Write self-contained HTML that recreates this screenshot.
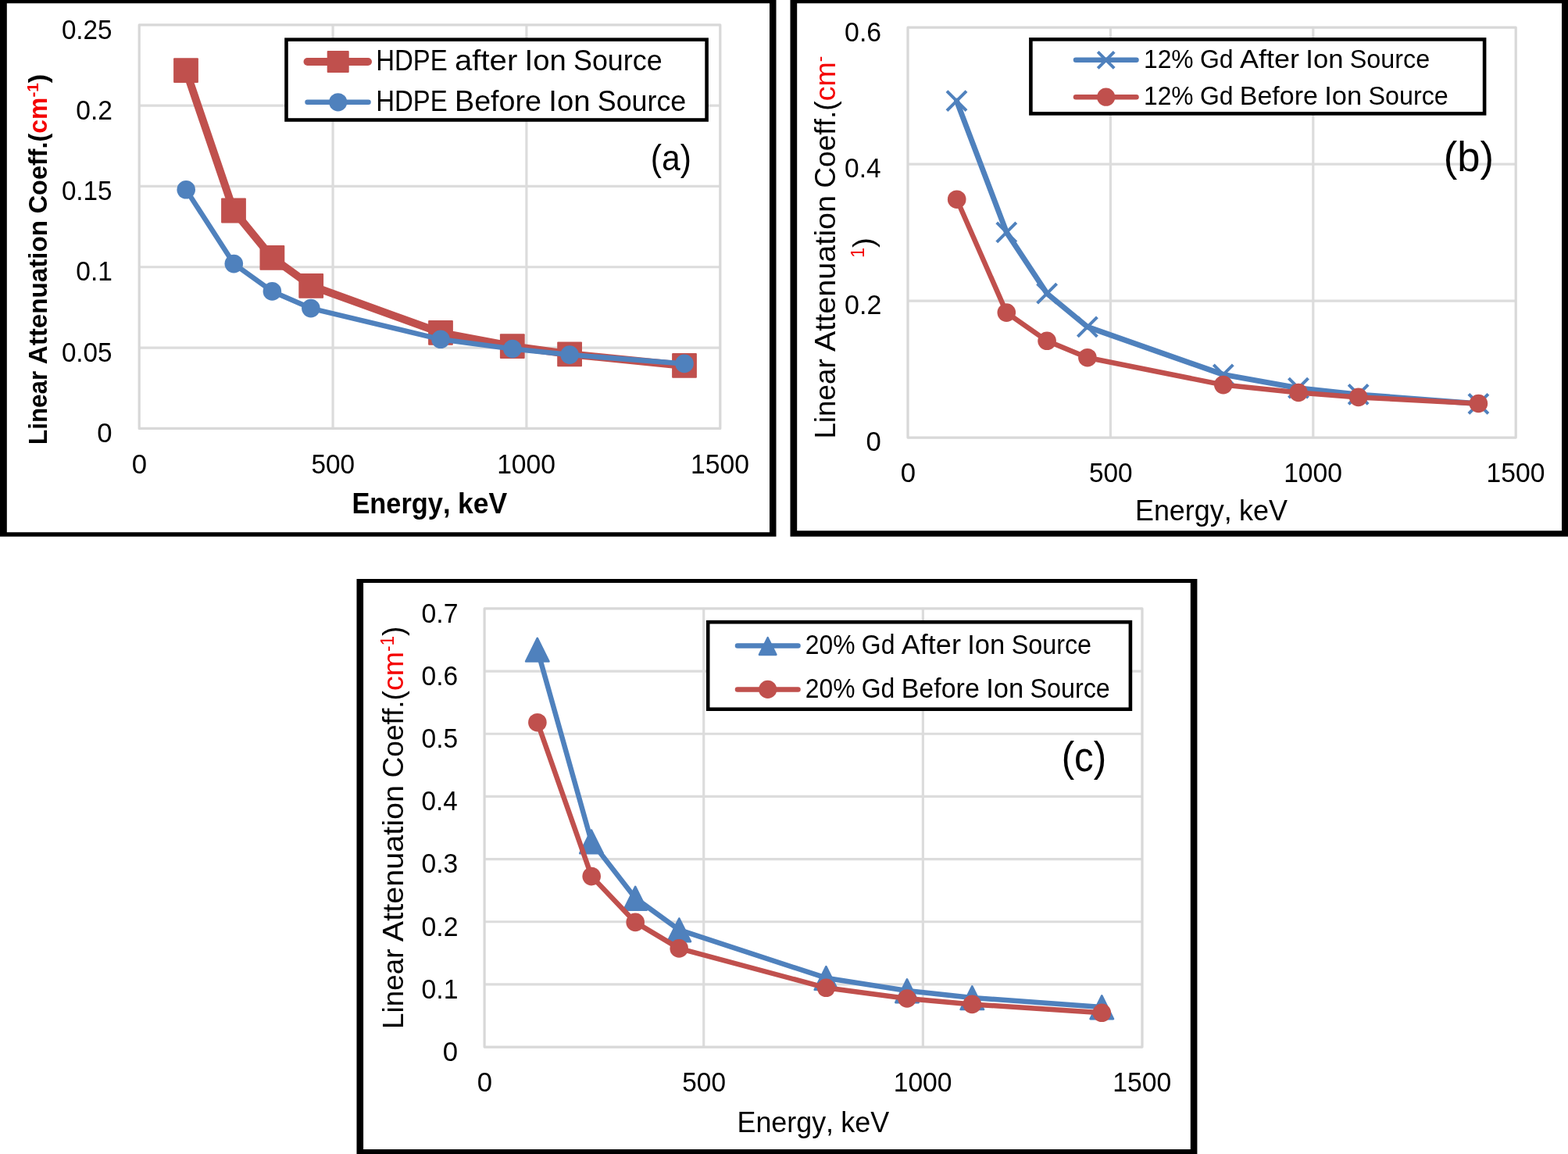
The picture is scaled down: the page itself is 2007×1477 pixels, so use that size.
<!DOCTYPE html>
<html lang="en">
<head>
<meta charset="utf-8">
<title>Linear attenuation coefficient vs. energy</title>
<style>
html,body{margin:0;padding:0;background:#fff;}
body{width:2007px;height:1477px;overflow:hidden;}
svg{display:block;}
svg text{font-family:"Liberation Sans",sans-serif;font-kerning:none;}
</style>
</head>
<body>
<svg width="2007" height="1477" viewBox="0 0 2007 1477" role="img" aria-label="Linear attenuation coefficient versus photon energy for three samples, before and after the ion source">
<rect width="2007" height="1477" fill="#fff"/>
<g id="panel-a">
<path d="M0 -2H993.5V686.8H0Z M8.8 4.2V681.3H985V4.2Z" fill="#000" fill-rule="evenodd"/>
<g stroke="#DCDCDC" stroke-width="3.2" fill="none">
<line x1="178.2" y1="135.12" x2="921.8" y2="135.12"/>
<line x1="178.2" y1="238.44" x2="921.8" y2="238.44"/>
<line x1="178.2" y1="341.76" x2="921.8" y2="341.76"/>
<line x1="178.2" y1="445.08" x2="921.8" y2="445.08"/>
<line x1="426.07" y1="31.8" x2="426.07" y2="548.4"/>
<line x1="673.93" y1="31.8" x2="673.93" y2="548.4"/>
<rect x="178.2" y="31.8" width="743.6" height="516.6" stroke="#D8D8D8" stroke-linejoin="round"/>
</g>
<polyline points="238,90.2 299,269.5 348.4,329.8 398.2,365.8 564,425.8 655.8,443.1 729.1,453.3 876,467.9" fill="none" stroke="#C0504D" stroke-width="10" stroke-linejoin="round" stroke-linecap="round"/>
<rect x="222.1" y="74.3" width="31.8" height="31.8" rx="1" fill="#C0504D"/>
<rect x="283.1" y="253.6" width="31.8" height="31.8" rx="1" fill="#C0504D"/>
<rect x="332.5" y="313.9" width="31.8" height="31.8" rx="1" fill="#C0504D"/>
<rect x="382.3" y="349.9" width="31.8" height="31.8" rx="1" fill="#C0504D"/>
<rect x="548.1" y="409.9" width="31.8" height="31.8" rx="1" fill="#C0504D"/>
<rect x="639.9" y="427.2" width="31.8" height="31.8" rx="1" fill="#C0504D"/>
<rect x="713.2" y="437.4" width="31.8" height="31.8" rx="1" fill="#C0504D"/>
<rect x="860.1" y="452" width="31.8" height="31.8" rx="1" fill="#C0504D"/>
<polyline points="238.2,242.8 299.3,337.6 348.4,372.9 397.9,394.6 564,434.3 655.9,446.5 729.1,454.1 876,465.4" fill="none" stroke="#4F81BD" stroke-width="6.5" stroke-linejoin="round" stroke-linecap="round"/>
<circle cx="238.2" cy="242.8" r="11.8" fill="#4F81BD"/>
<circle cx="299.3" cy="337.6" r="11.8" fill="#4F81BD"/>
<circle cx="348.4" cy="372.9" r="11.8" fill="#4F81BD"/>
<circle cx="397.9" cy="394.6" r="11.8" fill="#4F81BD"/>
<circle cx="564" cy="434.3" r="11.8" fill="#4F81BD"/>
<circle cx="655.9" cy="446.5" r="11.8" fill="#4F81BD"/>
<circle cx="729.1" cy="454.1" r="11.8" fill="#4F81BD"/>
<circle cx="876" cy="465.4" r="11.8" fill="#4F81BD"/>
<text y="566.1" font-size="34.3"><tspan x="124.24" textLength="19.31" lengthAdjust="spacingAndGlyphs">0</tspan></text>
<text y="462.78" font-size="34.3"><tspan x="78.9" textLength="64.69" lengthAdjust="spacingAndGlyphs">0.05</tspan></text>
<text y="359.46" font-size="34.3"><tspan x="97.29" textLength="46.54" lengthAdjust="spacingAndGlyphs">0.1</tspan></text>
<text y="256.14" font-size="34.3"><tspan x="78.9" textLength="64.69" lengthAdjust="spacingAndGlyphs">0.15</tspan></text>
<text y="152.82" font-size="34.3"><tspan x="97.29" textLength="46.6" lengthAdjust="spacingAndGlyphs">0.2</tspan></text>
<text y="49.5" font-size="34.3"><tspan x="78.9" textLength="64.69" lengthAdjust="spacingAndGlyphs">0.25</tspan></text>
<text y="606.1" font-size="34.3"><tspan x="168.84" textLength="19.31" lengthAdjust="spacingAndGlyphs">0</tspan></text>
<text y="606.1" font-size="34.3"><tspan x="398.53" textLength="55.64" lengthAdjust="spacingAndGlyphs">500</tspan></text>
<text y="606.1" font-size="34.3"><tspan x="636.17" textLength="74.88" lengthAdjust="spacingAndGlyphs">1000</tspan></text>
<text y="606.1" font-size="34.3"><tspan x="884.04" textLength="74.88" lengthAdjust="spacingAndGlyphs">1500</tspan></text>
<text y="656.7" font-size="37.21" font-weight="bold"><tspan x="450.4" textLength="126.15" lengthAdjust="spacingAndGlyphs">Energy,</tspan> <tspan x="585.94" textLength="63.2" lengthAdjust="spacingAndGlyphs">keV</tspan></text>
<text transform="translate(60.1 566.9) rotate(-90)" y="0" font-size="33.58" font-weight="bold"><tspan x="-2.1" textLength="94.24" lengthAdjust="spacingAndGlyphs">Linear</tspan> <tspan x="100.66" textLength="184.41" lengthAdjust="spacingAndGlyphs">Attenuation</tspan> <tspan x="293.59" textLength="102.65" lengthAdjust="spacingAndGlyphs">Coeff.(</tspan><tspan x="396.23" textLength="46.06" lengthAdjust="spacingAndGlyphs" fill="#F40000">cm</tspan><tspan x="442.3" textLength="18.39" lengthAdjust="spacingAndGlyphs" fill="#F40000" font-size="20.95" dy="-11.08">-1</tspan><tspan x="460.69" textLength="11.42" lengthAdjust="spacingAndGlyphs" dy="11.08">)</tspan></text>
<rect x="366.5" y="50.7" width="538.1" height="102.8" fill="#fff" stroke="#000" stroke-width="4.6"/>
<line x1="393.5" y1="79" x2="471" y2="79" stroke="#C0504D" stroke-width="10" stroke-linecap="round"/>
<rect x="418.7" y="65" width="28" height="28" rx="1" fill="#C0504D"/>
<line x1="393.5" y1="130.8" x2="471.5" y2="130.8" stroke="#4F81BD" stroke-width="6.5" stroke-linecap="round"/>
<circle cx="432.7" cy="130.8" r="11.6" fill="#4F81BD"/>
<text y="89.9" font-size="37.06"><tspan x="481.2" textLength="91.6" lengthAdjust="spacingAndGlyphs">HDPE</tspan> <tspan x="582.02" textLength="80.29" lengthAdjust="spacingAndGlyphs">after</tspan> <tspan x="671.54" textLength="53.25" lengthAdjust="spacingAndGlyphs">Ion</tspan> <tspan x="734.02" textLength="113.57" lengthAdjust="spacingAndGlyphs">Source</tspan></text>
<text y="142.4" font-size="37.06"><tspan x="481.2" textLength="91.57" lengthAdjust="spacingAndGlyphs">HDPE</tspan> <tspan x="581.99" textLength="111.08" lengthAdjust="spacingAndGlyphs">Before</tspan> <tspan x="702.3" textLength="53.23" lengthAdjust="spacingAndGlyphs">Ion</tspan> <tspan x="764.76" textLength="113.53" lengthAdjust="spacingAndGlyphs">Source</tspan></text>
<text y="217.8" font-size="46.08"><tspan x="832.76" textLength="52.09" lengthAdjust="spacingAndGlyphs">(a)</tspan></text>
</g>
<g id="panel-b">
<path d="M1011.5 -2H2009V686.8H1011.5Z M1020.2 4.2V679.2H1999V4.2Z" fill="#000" fill-rule="evenodd"/>
<g stroke="#DCDCDC" stroke-width="3.2" fill="none">
<line x1="1162" y1="210.17" x2="1940.2" y2="210.17"/>
<line x1="1162" y1="385.13" x2="1940.2" y2="385.13"/>
<line x1="1421.4" y1="35.2" x2="1421.4" y2="560.1"/>
<line x1="1680.8" y1="35.2" x2="1680.8" y2="560.1"/>
<rect x="1162" y="35.2" width="778.2" height="524.9" stroke="#D8D8D8" stroke-linejoin="round"/>
</g>
<polyline points="1224.5,129.2 1288.3,297.3 1340.1,375.6 1391.9,418.4 1565.8,479.4 1662,496.7 1738.7,504.9 1892.4,516.8" fill="none" stroke="#4F81BD" stroke-width="7" stroke-linejoin="round" stroke-linecap="round"/>
<path d="M1212 116.7L1237 141.7M1212 141.7L1237 116.7" fill="none" stroke="#4F81BD" stroke-width="4"/>
<path d="M1275.8 284.8L1300.8 309.8M1275.8 309.8L1300.8 284.8" fill="none" stroke="#4F81BD" stroke-width="4"/>
<path d="M1327.6 363.1L1352.6 388.1M1327.6 388.1L1352.6 363.1" fill="none" stroke="#4F81BD" stroke-width="4"/>
<path d="M1379.4 405.9L1404.4 430.9M1379.4 430.9L1404.4 405.9" fill="none" stroke="#4F81BD" stroke-width="4"/>
<path d="M1553.3 466.9L1578.3 491.9M1553.3 491.9L1578.3 466.9" fill="none" stroke="#4F81BD" stroke-width="4"/>
<path d="M1649.5 484.2L1674.5 509.2M1649.5 509.2L1674.5 484.2" fill="none" stroke="#4F81BD" stroke-width="4"/>
<path d="M1726.2 492.4L1751.2 517.4M1726.2 517.4L1751.2 492.4" fill="none" stroke="#4F81BD" stroke-width="4"/>
<path d="M1879.9 504.3L1904.9 529.3M1879.9 529.3L1904.9 504.3" fill="none" stroke="#4F81BD" stroke-width="4"/>
<polyline points="1224.7,255.2 1288.3,400.1 1340.1,436.3 1391.9,457.7 1565.8,492.6 1662,502.5 1738.7,508.4 1892.4,516.5" fill="none" stroke="#C0504D" stroke-width="6.5" stroke-linejoin="round" stroke-linecap="round"/>
<circle cx="1224.7" cy="255.2" r="11.8" fill="#C0504D"/>
<circle cx="1288.3" cy="400.1" r="11.8" fill="#C0504D"/>
<circle cx="1340.1" cy="436.3" r="11.8" fill="#C0504D"/>
<circle cx="1391.9" cy="457.7" r="11.8" fill="#C0504D"/>
<circle cx="1565.8" cy="492.6" r="11.8" fill="#C0504D"/>
<circle cx="1662" cy="502.5" r="11.8" fill="#C0504D"/>
<circle cx="1738.7" cy="508.4" r="11.8" fill="#C0504D"/>
<circle cx="1892.4" cy="516.5" r="11.8" fill="#C0504D"/>
<text y="577.4" font-size="34.45"><tspan x="1108.64" textLength="19.31" lengthAdjust="spacingAndGlyphs">0</tspan></text>
<text y="402.43" font-size="34.45"><tspan x="1081.07" textLength="47.24" lengthAdjust="spacingAndGlyphs">0.2</tspan></text>
<text y="227.47" font-size="34.45"><tspan x="1081.09" textLength="46.49" lengthAdjust="spacingAndGlyphs">0.4</tspan></text>
<text y="52.5" font-size="34.45"><tspan x="1081.08" textLength="47.01" lengthAdjust="spacingAndGlyphs">0.6</tspan></text>
<text y="617.3" font-size="34.3"><tspan x="1152.74" textLength="19.31" lengthAdjust="spacingAndGlyphs">0</tspan></text>
<text y="617.3" font-size="34.3"><tspan x="1393.96" textLength="55.64" lengthAdjust="spacingAndGlyphs">500</tspan></text>
<text y="617.3" font-size="34.3"><tspan x="1643.14" textLength="74.88" lengthAdjust="spacingAndGlyphs">1000</tspan></text>
<text y="617.3" font-size="34.3"><tspan x="1902.54" textLength="74.88" lengthAdjust="spacingAndGlyphs">1500</tspan></text>
<text y="666.1" font-size="37.21"><tspan x="1452.95" textLength="123.77" lengthAdjust="spacingAndGlyphs">Energy,</tspan> <tspan x="1585.95" textLength="62.01" lengthAdjust="spacingAndGlyphs">keV</tspan></text>
<text transform="translate(1069.4 558.6) rotate(-90)" y="0" font-size="37.21"><tspan x="-3.02" textLength="102.28" lengthAdjust="spacingAndGlyphs">Linear</tspan> <tspan x="108.51" textLength="200.14" lengthAdjust="spacingAndGlyphs">Attenuation</tspan> <tspan x="317.89" textLength="111.4" lengthAdjust="spacingAndGlyphs">Coeff.(</tspan><tspan x="429.3" textLength="49.99" lengthAdjust="spacingAndGlyphs" fill="#F40000">cm</tspan><tspan x="479.29" textLength="7.51" lengthAdjust="spacingAndGlyphs" fill="#F40000" font-size="23.22" dy="-12.28">-</tspan></text>
<text transform="translate(1118.2 328.2) rotate(-90)" y="0" font-size="37.21"><tspan x="-1.78" textLength="13.03" lengthAdjust="spacingAndGlyphs" fill="#F40000" font-size="23.22" dy="-12.28">1</tspan><tspan x="11.24" textLength="12.97" lengthAdjust="spacingAndGlyphs" dy="12.28">)</tspan></text>
<rect x="1319.4" y="50.4" width="580.7" height="95" fill="#fff" stroke="#000" stroke-width="4.6"/>
<line x1="1377" y1="76.8" x2="1454.5" y2="76.8" stroke="#4F81BD" stroke-width="6.5" stroke-linecap="round"/>
<path d="M1405.2 66.3L1426.2 87.3M1405.2 87.3L1426.2 66.3" fill="none" stroke="#4F81BD" stroke-width="4"/>
<line x1="1377" y1="124.2" x2="1454.5" y2="124.2" stroke="#C0504D" stroke-width="6.5" stroke-linecap="round"/>
<circle cx="1415.7" cy="124.2" r="11.6" fill="#C0504D"/>
<text y="86.8" font-size="34.01"><tspan x="1463.98" textLength="63.71" lengthAdjust="spacingAndGlyphs">12%</tspan> <tspan x="1536.01" textLength="42.6" lengthAdjust="spacingAndGlyphs">Gd</tspan> <tspan x="1586.93" textLength="76.13" lengthAdjust="spacingAndGlyphs">After</tspan> <tspan x="1671.39" textLength="48.05" lengthAdjust="spacingAndGlyphs">Ion</tspan> <tspan x="1727.76" textLength="102.47" lengthAdjust="spacingAndGlyphs">Source</tspan></text>
<text y="134.3" font-size="34.01"><tspan x="1463.98" textLength="63.62" lengthAdjust="spacingAndGlyphs">12%</tspan> <tspan x="1535.92" textLength="42.54" lengthAdjust="spacingAndGlyphs">Gd</tspan> <tspan x="1586.77" textLength="100.12" lengthAdjust="spacingAndGlyphs">Before</tspan> <tspan x="1695.21" textLength="47.98" lengthAdjust="spacingAndGlyphs">Ion</tspan> <tspan x="1751.5" textLength="102.33" lengthAdjust="spacingAndGlyphs">Source</tspan></text>
<text y="219.3" font-size="53.2"><tspan x="1847.64" textLength="64.33" lengthAdjust="spacingAndGlyphs">(b)</tspan></text>
</g>
<g id="panel-c">
<path d="M456.5 741.1H1532.4V1480H456.5Z M465.1 746.1V1471H1523.8V746.1Z" fill="#000" fill-rule="evenodd"/>
<g stroke="#DCDCDC" stroke-width="3.2" fill="none">
<line x1="620.1" y1="859.07" x2="1462" y2="859.07"/>
<line x1="620.1" y1="939.24" x2="1462" y2="939.24"/>
<line x1="620.1" y1="1019.41" x2="1462" y2="1019.41"/>
<line x1="620.1" y1="1099.59" x2="1462" y2="1099.59"/>
<line x1="620.1" y1="1179.76" x2="1462" y2="1179.76"/>
<line x1="620.1" y1="1259.93" x2="1462" y2="1259.93"/>
<line x1="900.73" y1="778.9" x2="900.73" y2="1340.1"/>
<line x1="1181.37" y1="778.9" x2="1181.37" y2="1340.1"/>
<rect x="620.1" y="778.9" width="841.9" height="561.2" stroke="#D8D8D8" stroke-linejoin="round"/>
</g>
<polyline points="687.8,831.4 757,1077.1 813.2,1149.5 869.3,1190.1 1057.4,1251.7 1161,1268 1244.3,1276.9 1410.3,1289" fill="none" stroke="#4F81BD" stroke-width="6.5" stroke-linejoin="round" stroke-linecap="round"/>
<path d="M687.8 816.8L702.5 846.5L673.1 846.5Z" fill="#4F81BD" stroke="#4F81BD" stroke-width="2.6" stroke-linejoin="round"/>
<path d="M757 1062.5L771.7 1092.2L742.3 1092.2Z" fill="#4F81BD" stroke="#4F81BD" stroke-width="2.6" stroke-linejoin="round"/>
<path d="M813.2 1134.9L827.9 1164.6L798.5 1164.6Z" fill="#4F81BD" stroke="#4F81BD" stroke-width="2.6" stroke-linejoin="round"/>
<path d="M869.3 1175.5L884 1205.2L854.6 1205.2Z" fill="#4F81BD" stroke="#4F81BD" stroke-width="2.6" stroke-linejoin="round"/>
<path d="M1057.4 1237.1L1072.1 1266.8L1042.7 1266.8Z" fill="#4F81BD" stroke="#4F81BD" stroke-width="2.6" stroke-linejoin="round"/>
<path d="M1161 1253.4L1175.7 1283.1L1146.3 1283.1Z" fill="#4F81BD" stroke="#4F81BD" stroke-width="2.6" stroke-linejoin="round"/>
<path d="M1244.3 1262.3L1259 1292L1229.6 1292Z" fill="#4F81BD" stroke="#4F81BD" stroke-width="2.6" stroke-linejoin="round"/>
<path d="M1410.3 1274.4L1425 1304.1L1395.6 1304.1Z" fill="#4F81BD" stroke="#4F81BD" stroke-width="2.6" stroke-linejoin="round"/>
<polyline points="687.9,924.7 757.2,1121.6 813.2,1180.4 869.2,1213.9 1057.4,1264.3 1161,1278 1244.3,1285.4 1410.3,1296.3" fill="none" stroke="#C0504D" stroke-width="6.5" stroke-linejoin="round" stroke-linecap="round"/>
<circle cx="687.9" cy="924.7" r="11.8" fill="#C0504D"/>
<circle cx="757.2" cy="1121.6" r="11.8" fill="#C0504D"/>
<circle cx="813.2" cy="1180.4" r="11.8" fill="#C0504D"/>
<circle cx="869.2" cy="1213.9" r="11.8" fill="#C0504D"/>
<circle cx="1057.4" cy="1264.3" r="11.8" fill="#C0504D"/>
<circle cx="1161" cy="1278" r="11.8" fill="#C0504D"/>
<circle cx="1244.3" cy="1285.4" r="11.8" fill="#C0504D"/>
<circle cx="1410.3" cy="1296.3" r="11.8" fill="#C0504D"/>
<text y="1357.9" font-size="34.45"><tspan x="566.84" textLength="19.31" lengthAdjust="spacingAndGlyphs">0</tspan></text>
<text y="1277.73" font-size="34.45"><tspan x="539.58" textLength="46.86" lengthAdjust="spacingAndGlyphs">0.1</tspan></text>
<text y="1197.56" font-size="34.45"><tspan x="539.58" textLength="46.92" lengthAdjust="spacingAndGlyphs">0.2</tspan></text>
<text y="1117.39" font-size="34.45"><tspan x="539.59" textLength="46.69" lengthAdjust="spacingAndGlyphs">0.3</tspan></text>
<text y="1037.21" font-size="34.45"><tspan x="539.6" textLength="46.17" lengthAdjust="spacingAndGlyphs">0.4</tspan></text>
<text y="957.04" font-size="34.45"><tspan x="539.59" textLength="46.62" lengthAdjust="spacingAndGlyphs">0.5</tspan></text>
<text y="876.87" font-size="34.45"><tspan x="539.59" textLength="46.69" lengthAdjust="spacingAndGlyphs">0.6</tspan></text>
<text y="796.7" font-size="34.45"><tspan x="539.58" textLength="46.92" lengthAdjust="spacingAndGlyphs">0.7</tspan></text>
<text y="1397.4" font-size="34.3"><tspan x="610.84" textLength="19.31" lengthAdjust="spacingAndGlyphs">0</tspan></text>
<text y="1397.4" font-size="34.3"><tspan x="873.3" textLength="55.64" lengthAdjust="spacingAndGlyphs">500</tspan></text>
<text y="1397.4" font-size="34.3"><tspan x="1143.7" textLength="74.88" lengthAdjust="spacingAndGlyphs">1000</tspan></text>
<text y="1397.4" font-size="34.3"><tspan x="1424.34" textLength="74.88" lengthAdjust="spacingAndGlyphs">1500</tspan></text>
<text y="1448.7" font-size="37.36"><tspan x="943.46" textLength="123.65" lengthAdjust="spacingAndGlyphs">Energy,</tspan> <tspan x="1076.31" textLength="61.95" lengthAdjust="spacingAndGlyphs">keV</tspan></text>
<text transform="translate(516.1 1313.9) rotate(-90)" y="0" font-size="37.21"><tspan x="-3.02" textLength="102.41" lengthAdjust="spacingAndGlyphs">Linear</tspan> <tspan x="108.65" textLength="200.4" lengthAdjust="spacingAndGlyphs">Attenuation</tspan> <tspan x="318.31" textLength="111.55" lengthAdjust="spacingAndGlyphs">Coeff.(</tspan><tspan x="429.86" textLength="50.06" lengthAdjust="spacingAndGlyphs" fill="#F40000">cm</tspan><tspan x="479.92" textLength="19.98" lengthAdjust="spacingAndGlyphs" fill="#F40000" font-size="23.22" dy="-12.28">-1</tspan><tspan x="499.9" textLength="12.41" lengthAdjust="spacingAndGlyphs" dy="12.28">)</tspan></text>
<rect x="906.2" y="796.2" width="540.7" height="111.5" fill="#fff" stroke="#000" stroke-width="4.6"/>
<line x1="944" y1="826.4" x2="1021.5" y2="826.4" stroke="#4F81BD" stroke-width="6.5" stroke-linecap="round"/>
<path d="M982.7 816.2L993.4 837.9L972 837.9Z" fill="#4F81BD" stroke="#4F81BD" stroke-width="2.6" stroke-linejoin="round"/>
<line x1="944" y1="882.4" x2="1021.5" y2="882.4" stroke="#C0504D" stroke-width="6.5" stroke-linecap="round"/>
<circle cx="982.7" cy="882.4" r="11.6" fill="#C0504D"/>
<text y="836.9" font-size="34.23"><tspan x="1030.8" textLength="63.72" lengthAdjust="spacingAndGlyphs">20%</tspan> <tspan x="1102.85" textLength="42.6" lengthAdjust="spacingAndGlyphs">Gd</tspan> <tspan x="1153.78" textLength="76.14" lengthAdjust="spacingAndGlyphs">After</tspan> <tspan x="1238.26" textLength="48.06" lengthAdjust="spacingAndGlyphs">Ion</tspan> <tspan x="1294.64" textLength="102.49" lengthAdjust="spacingAndGlyphs">Source</tspan></text>
<text y="892.8" font-size="34.23"><tspan x="1030.8" textLength="63.65" lengthAdjust="spacingAndGlyphs">20%</tspan> <tspan x="1102.77" textLength="42.56" lengthAdjust="spacingAndGlyphs">Gd</tspan> <tspan x="1153.65" textLength="100.17" lengthAdjust="spacingAndGlyphs">Before</tspan> <tspan x="1262.13" textLength="48" lengthAdjust="spacingAndGlyphs">Ion</tspan> <tspan x="1318.46" textLength="102.38" lengthAdjust="spacingAndGlyphs">Source</tspan></text>
<text y="987.2" font-size="53.78"><tspan x="1358.64" textLength="57.63" lengthAdjust="spacingAndGlyphs">(c)</tspan></text>
</g>
</svg>
</body>
</html>
